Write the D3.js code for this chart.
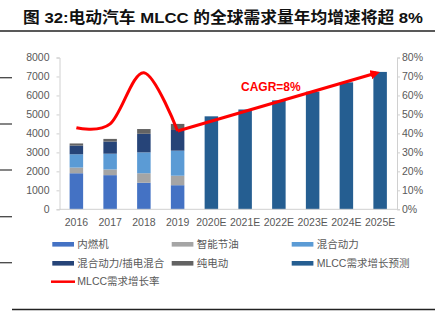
<!DOCTYPE html>
<html><head><meta charset="utf-8">
<script src="https://cdn.jsdelivr.net/npm/d3@7"></script>
<style>
html,body{margin:0;padding:0;background:#fff;}
svg{display:block;font-family:"Liberation Sans","Noto Sans CJK SC",Arial,sans-serif;}
</style></head>
<body><svg id="c" width="443" height="324"></svg>
<script>
const categories = ["2016","2017","2018","2019","2020E","2021E","2022E","2023E","2024E","2025E"];
const seriesNames = ["内燃机","智能节油","混合动力","混合动力/插电混合","纯电动","MLCC需求增长预测"];
const seriesColors = ["#4472C4","#A5A5A5","#5B9BD5","#264478","#636363","#255E91"];
const ice      = [1900,1800,1400,1270,0,0,0,0,0,0];
const smartEco = [300,300,500,500,0,0,0,0,0,0];
const hybrid   = [700,830,1100,1320,0,0,0,0,0,0];
const phev     = [460,640,980,1090,0,0,0,0,0,0];
const bev      = [110,140,250,320,0,0,0,0,0,0];
const forecast = [0,0,0,0,4900,5260,5740,6200,6690,7240];
const rateCats = ["2016","2017","2018","2019"];
const rateVals = [43,45,72,41.3];
const lineName = "MLCC需求增长率";
const leftTicks = [0,1000,2000,3000,4000,5000,6000,7000,8000];
const rightTicks = [0,10,20,30,40,50,60,70,80];
const titleText = "图 32:电动汽车 MLCC 的全球需求量年均增速将超 8%";
const cagrText = "CAGR=8%";
const arrowFrom = {cat:"2019", rate:41.3};
const arrowTo = {cat:"2025E", value:7240};

const svg = d3.select("#c");
const L = 59.5, R = 397, T = 57.5, B = 209.3;
const x = d3.scaleBand().domain(categories).range([L, R]).paddingInner(0.6).paddingOuter(0.3);
const yL = d3.scaleLinear().domain([0,8000]).range([B, T]);
const yR = d3.scaleLinear().domain([0,80]).range([B, T]);

// page decorations
svg.append("text").attr("x",23).attr("y",23).attr("font-size",15.5).attr("font-weight","bold")
  .attr("fill","#111").attr("textLength",400).attr("lengthAdjust","spacingAndGlyphs").text(titleText);
svg.append("line").attr("x1",0).attr("x2",435).attr("y1",31).attr("y2",31).attr("stroke","#222").attr("stroke-width",1.5);
svg.append("line").attr("x1",12).attr("x2",435).attr("y1",309.5).attr("y2",309.5).attr("stroke","#222").attr("stroke-width",1.5);
[77.7,124,170,216.7,262.7].forEach(yy=>{
  svg.append("line").attr("x1",0).attr("x2",12).attr("y1",yy).attr("y2",yy).attr("stroke","#444").attr("stroke-width",1.3);
});

// stacked bars
const rows = categories.map((c,i)=>({cat:c, s0:ice[i], s1:smartEco[i], s2:hybrid[i], s3:phev[i], s4:bev[i], s5:forecast[i]}));
const keys = ["s0","s1","s2","s3","s4","s5"];
const stack = d3.stack().keys(keys)(rows);
const g = svg.append("g");
stack.forEach((layer,k)=>{
  g.selectAll(null).data(layer.filter(d=>d[1]-d[0]>0)).join("rect")
    .attr("x",d=>x(d.data.cat)).attr("width",x.bandwidth())
    .attr("y",d=>yL(d[1])).attr("height",d=>yL(d[0])-yL(d[1]))
    .attr("fill",seriesColors[k]);
});

// axes
const axisColor = "#D0D0D0";
const la = svg.append("g").attr("transform",`translate(${L},0)`)
  .call(d3.axisLeft(yL).tickValues(leftTicks).tickSize(3).tickPadding(7).tickFormat(d3.format("d")));
const ra = svg.append("g").attr("transform",`translate(${R},0)`)
  .call(d3.axisRight(yR).tickValues(rightTicks).tickSize(3).tickPadding(2).tickFormat(d=>d+"%"));
const ba = svg.append("g").attr("transform",`translate(0,${B})`)
  .call(d3.axisBottom(x).tickSize(0).tickPadding(9));
[la,ra,ba].forEach(a=>{
  a.select(".domain").attr("stroke",axisColor);
  a.selectAll(".tick line").attr("stroke",axisColor);
  a.selectAll("text").attr("fill","#595959").attr("font-size",10.5).attr("font-family","Liberation Sans, Arial, sans-serif");
});
ba.select(".domain").attr("d",`M${L},0H${R}`);

// growth rate line
const line = d3.line().x(d=>x(d.c)+x.bandwidth()/2).y(d=>yR(d.v)).curve(d3.curveCardinal.tension(0));
svg.append("path").datum(rateCats.map((c,i)=>({c, v:rateVals[i]})))
  .attr("d",line).attr("fill","none").attr("stroke","#FF0000").attr("stroke-width",3).attr("stroke-linejoin","round");

// CAGR arrow
const defs = svg.append("defs");
defs.append("marker").attr("id","ah").attr("viewBox","0 0 10 10").attr("refX",6).attr("refY",5)
  .attr("markerWidth",3).attr("markerHeight",3).attr("orient","auto").attr("markerUnits","strokeWidth")
  .append("path").attr("d","M0,0L10,5L0,10z").attr("fill","#FF0000");
const ax1 = x(arrowFrom.cat)+x.bandwidth()/2, ay1 = yR(arrowFrom.rate);
const ax2 = x(arrowTo.cat)+x.bandwidth()/2, ay2 = yL(arrowTo.value);
const dx = ax2-ax1, dy = ay2-ay1, len = Math.hypot(dx,dy);
svg.append("line").attr("x1",ax1).attr("y1",ay1)
  .attr("x2",ax2-dx/len*4).attr("y2",ay2-dy/len*4)
  .attr("stroke","#FF0000").attr("stroke-width",3.2).attr("marker-end","url(#ah)");
svg.append("text").attr("x",241).attr("y",90.5).attr("font-size",12).attr("font-weight","bold")
  .attr("fill","#FF0000").text(cagrText);

// legend
const legX = [52.3,171.7,291.7], legY = [244.3,263.3,281.7];
seriesNames.forEach((n,i)=>{
  const cx = legX[i%3], cy = legY[Math.floor(i/3)];
  svg.append("rect").attr("x",cx).attr("y",cy-2.3).attr("width",21.7).attr("height",4.6).attr("fill",seriesColors[i]);
  svg.append("text").attr("x",cx+25).attr("y",cy+3.7).attr("font-size",10.5).attr("fill","#595959").text(n);
});
svg.append("line").attr("x1",51).attr("x2",75).attr("y1",legY[2]).attr("y2",legY[2]).attr("stroke","#FF0000").attr("stroke-width",2.5);
svg.append("text").attr("x",77.3).attr("y",legY[2]+3.7).attr("font-size",10.5).attr("fill","#595959").text(lineName);
</script></body></html>
